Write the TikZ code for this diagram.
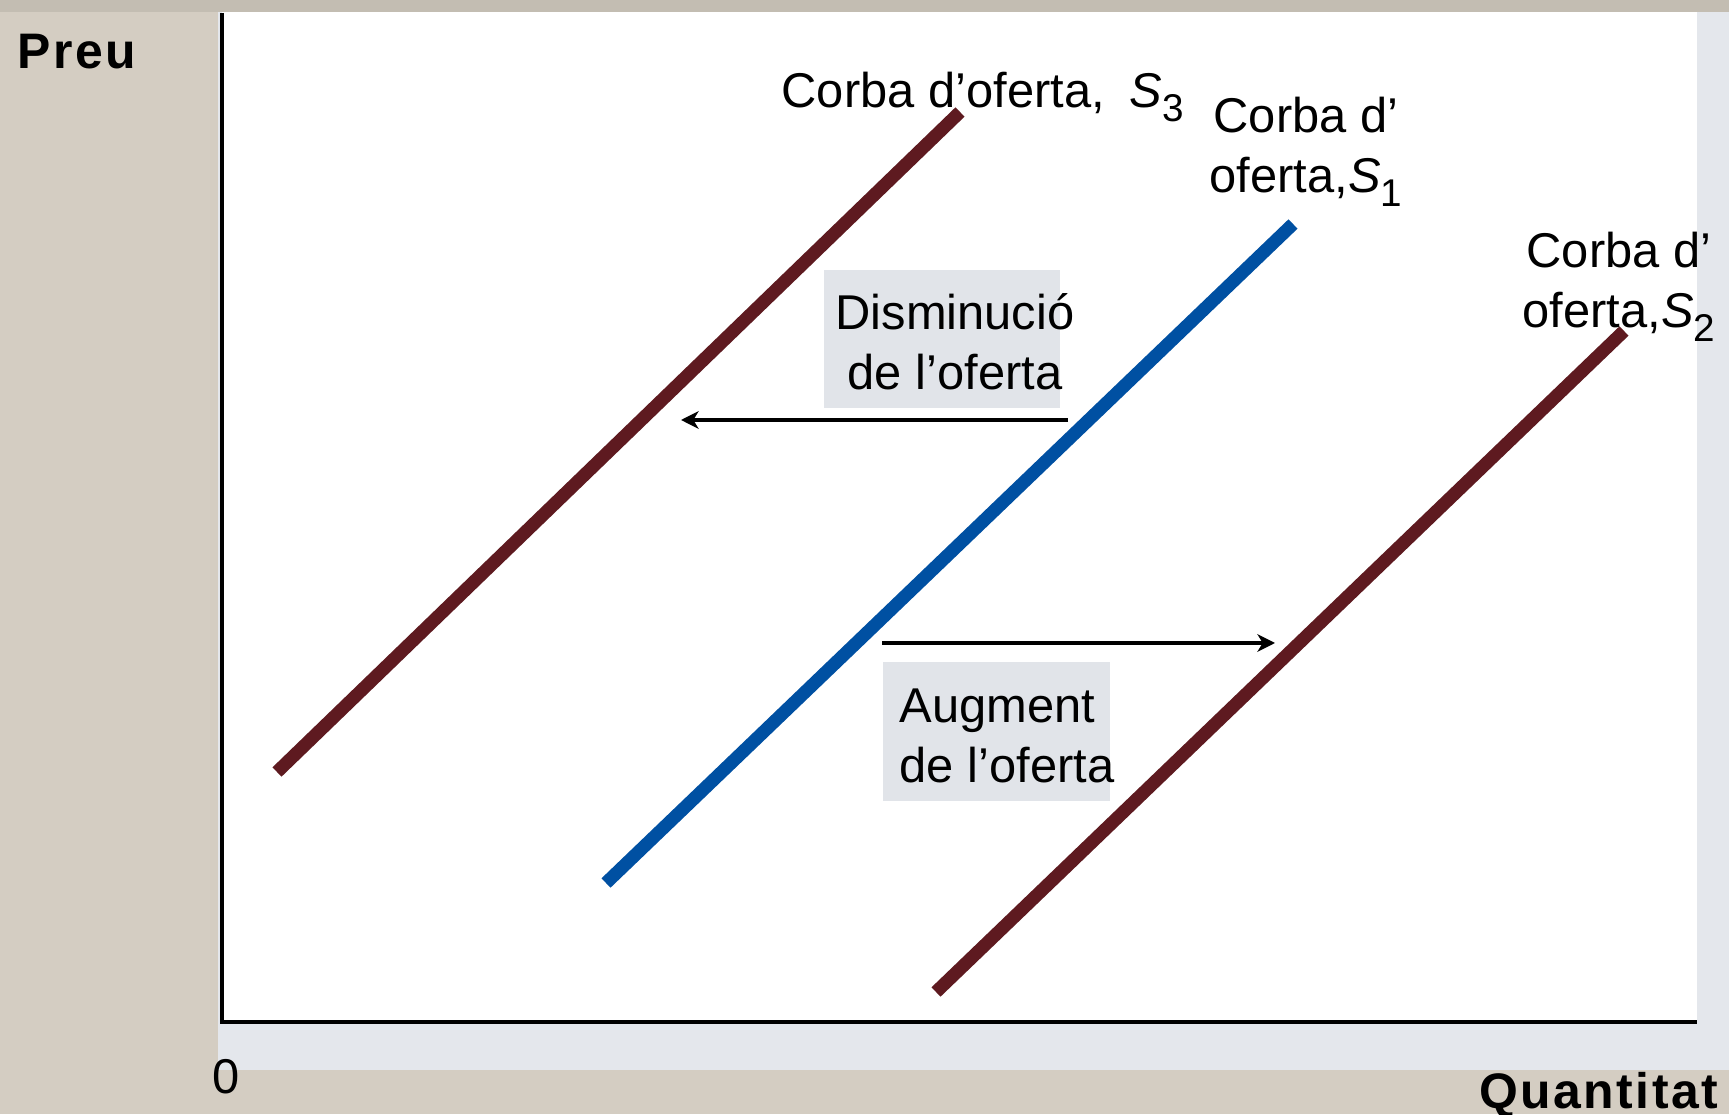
\documentclass[tikz,border=0pt]{standalone}
\usepackage{fontspec}
\setmainfont{Liberation Sans}
\usetikzlibrary{arrows.meta}
\definecolor{fons}{HTML}{D4CDC2}
\definecolor{panell}{HTML}{E4E7EC}
\definecolor{granat}{HTML}{5E1A20}
\definecolor{blau}{HTML}{0050A2}
\definecolor{caixa}{HTML}{E1E4E9}
\newcommand{\corba}[1]{\textit{S}\raisebox{-0.14cm}{\fontsize{11pt}{11pt}\selectfont #1}}

\begin{document}
\begin{tikzpicture}[
  curva/.style={line width=3.7pt},
  fletxa/.style={line width=1.1pt, -{Stealth[length=5pt,width=5pt,inset=1.5pt]}},
  etiq/.style={font=\fontsize{13.9pt}{17.3pt}\selectfont, inner sep=0pt},
  eix/.style={font=\bfseries\fontsize{14.2pt}{17pt}\selectfont\addfontfeature{LetterSpace=5}, inner sep=0pt}]
	%%%%% FONS %%%%%
	\useasboundingbox (0,0) rectangle (17.29,11.14);
	\fill[fons] (0,0) rectangle (17.29,11.14);
	\fill[fons!92!black] (0,11.02) rectangle (17.29,11.14);
	\fill[panell] (2.18,0.44) rectangle (17.29,11.02);
	\fill[white] (2.22,0.92) rectangle (16.97,11.02);
	
	%%%%% EIXOS %%%%%
	\coordinate (O) at (2.22,0.92);
	\coordinate (ydalt) at (2.22,11.01);
	\coordinate (xdreta) at (16.97,0.92);
	\draw[line width=1.2pt] (ydalt) -- (O) -- (xdreta);
	
	%%%%% CAIXES %%%%%
	\fill[caixa] (8.24,7.06) rectangle (10.60,8.44);
	\fill[caixa] (8.83,3.13) rectangle (11.10,4.52);
	
	%%%%% CORBES %%%%%
	\coordinate (s3a) at (2.77,3.42);
	\coordinate (s3b) at (9.60,10.02);
	\coordinate (s1a) at (6.06,2.31);
	\coordinate (s1b) at (12.93,8.90);
	\coordinate (s2a) at (9.36,1.22);
	\coordinate (s2b) at (16.24,7.83);
	\draw[curva, granat] (s3a) -- (s3b);
	\draw[curva, blau] (s1a) -- (s1b);
	\draw[curva, granat] (s2a) -- (s2b);
	
	%%%%% FLETXES %%%%%
	\coordinate (dis1) at (10.68,6.94);
	\coordinate (dis2) at (6.81,6.94);
	\coordinate (aug1) at (8.82,4.71);
	\coordinate (aug2) at (12.75,4.71);
	\draw[fletxa] (dis1) -- (dis2);
	\draw[fletxa] (aug1) -- (aug2);
	
	%%%%% TEXTOS %%%%%
	\node[etiq, anchor=base west] (ls3) at (7.81,10.06) {Corba d’oferta,\hspace{0.25cm}\corba{3}};
	\node[etiq, align=center, anchor=base] (ls1) at (13.06,9.21) {Corba d’\\oferta,\corba{1}};
	\node[etiq, align=center, anchor=base] (ls2) at (16.19,7.86) {Corba d’\\oferta,\corba{2}};
	\node[etiq, align=center, anchor=base] (ldis) at (9.55,7.24) {Disminució\\de l’oferta};
	\node[etiq, align=left, anchor=base west] (laug) at (8.99,3.31) {Augment\\de l’oferta};
	\node[etiq, anchor=base] (zero) at (2.26,0.21) {0};
	\node[eix, anchor=base west] (preu) at (0.17,10.45) {Preu};
	\node[eix, anchor=base east] (quant) at (17.19,0.06) {Quantitat};
	
\end{tikzpicture}
\end{document}
